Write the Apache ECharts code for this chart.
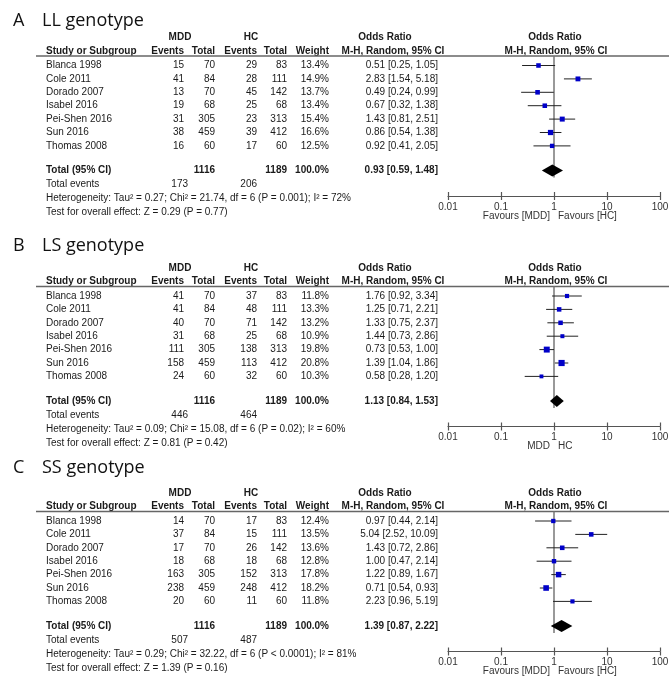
<!DOCTYPE html>
<html>
<head>
<meta charset="utf-8">
<script src="https://cdn.jsdelivr.net/npm/echarts@6/dist/echarts.min.js"></script>
<style>html,body{margin:0;padding:0;background:#fff}#c{width:669px;height:684px}</style>
</head>
<body>
<div id="c"></div>
<script>
// ---------- DATA ----------
const studies = ["Blanca 1998", "Cole 2011", "Dorado 2007", "Isabel 2016", "Pei-Shen 2016", "Sun 2016", "Thomas 2008"];
const mddTotal = [70, 84, 70, 68, 305, 459, 60];
const hcTotal = [83, 111, 142, 68, 313, 412, 60];
const axisTicks = [0.01, 0.1, 1, 10, 100];

// Panel A: LL genotype
const llMddEvents = [15, 41, 13, 19, 31, 38, 16];
const llHcEvents = [29, 28, 45, 25, 23, 39, 17];
const llWeight = [13.4, 14.9, 13.7, 13.4, 15.4, 16.6, 12.5];
const llOR = [0.51, 2.83, 0.49, 0.67, 1.43, 0.86, 0.92];
const llLow = [0.25, 1.54, 0.24, 0.32, 0.81, 0.54, 0.41];
const llHigh = [1.05, 5.18, 0.99, 1.38, 2.51, 1.38, 2.05];
const llTotal = [0.93, 0.59, 1.48];
const llTotalEvents = [173, 206];
const llHet = "Heterogeneity: Tau² = 0.27; Chi² = 21.74, df = 6 (P = 0.001); I² = 72%";
const llTest = "Test for overall effect: Z = 0.29 (P = 0.77)";

// Panel B: LS genotype
const lsMddEvents = [41, 41, 40, 31, 111, 158, 24];
const lsHcEvents = [37, 48, 71, 25, 138, 113, 32];
const lsWeight = [11.8, 13.3, 13.2, 10.9, 19.8, 20.8, 10.3];
const lsOR = [1.76, 1.25, 1.33, 1.44, 0.73, 1.39, 0.58];
const lsLow = [0.92, 0.71, 0.75, 0.73, 0.53, 1.04, 0.28];
const lsHigh = [3.34, 2.21, 2.37, 2.86, 1.00, 1.86, 1.20];
const lsTotal = [1.13, 0.84, 1.53];
const lsTotalEvents = [446, 464];
const lsHet = "Heterogeneity: Tau² = 0.09; Chi² = 15.08, df = 6 (P = 0.02); I² = 60%";
const lsTest = "Test for overall effect: Z = 0.81 (P = 0.42)";

// Panel C: SS genotype
const ssMddEvents = [14, 37, 17, 18, 163, 238, 20];
const ssHcEvents = [17, 15, 26, 18, 152, 248, 11];
const ssWeight = [12.4, 13.5, 13.6, 12.8, 17.8, 18.2, 11.8];
const ssOR = [0.97, 5.04, 1.43, 1.00, 1.22, 0.71, 2.23];
const ssLow = [0.44, 2.52, 0.72, 0.47, 0.89, 0.54, 0.96];
const ssHigh = [2.14, 10.09, 2.86, 2.14, 1.67, 0.93, 5.19];
const ssTotal = [1.39, 0.87, 2.22];
const ssTotalEvents = [507, 487];
const ssHet = "Heterogeneity: Tau² = 0.29; Chi² = 32.22, df = 6 (P < 0.0001); I² = 81%";
const ssTest = "Test for overall effect: Z = 1.39 (P = 0.16)";

const sumMdd = 1116, sumHc = 1189;

// ---------- LAYOUT ----------
const ROW = 13.4;
const TOTAL_ROW = 105 / ROW;   // pooled row position (in row units)
const OFF_TE = 119, OFF_HET = 133, OFF_TEST = 147;
const panels = [
  {letter: "A", title: "LL genotype", titleY: 21, y0: 65.5, ev: llMddEvents, hev: llHcEvents, w: llWeight, or: llOR, lo: llLow, hi: llHigh, tot: llTotal, te: llTotalEvents, het: llHet, test: llTest, fav: ["Favours [MDD]", "Favours [HC]"]},
  {letter: "B", title: "LS genotype", titleY: 246, y0: 296, ev: lsMddEvents, hev: lsHcEvents, w: lsWeight, or: lsOR, lo: lsLow, hi: lsHigh, tot: lsTotal, te: lsTotalEvents, het: lsHet, test: lsTest, fav: ["MDD", "HC"]},
  {letter: "C", title: "SS genotype", titleY: 468, y0: 521, ev: ssMddEvents, hev: ssHcEvents, w: ssWeight, or: ssOR, lo: ssLow, hi: ssHigh, tot: ssTotal, te: ssTotalEvents, het: ssHet, test: ssTest, fav: ["Favours [MDD]", "Favours [HC]"]}
];
const FONT = '"Liberation Sans", Arial, sans-serif';
const TXT = "#1a1a1a";
const f2 = v => v.toFixed(2);
const ciText = (o, l, h) => f2(o) + " [" + f2(l) + ", " + f2(h) + "]";

const graphics = [];
function txt(x, y, text, opt) {
  opt = opt || {};
  graphics.push({
    type: "text", x: x, y: y, silent: true,
    style: {
      text: String(text), fill: opt.fill || TXT,
      font: (opt.bold ? "bold " : "") + (opt.size || 10) + "px " + (opt.family || FONT),
      align: opt.align || "left", verticalAlign: "middle"
    }
  });
}

const grids = [], xAxes = [], yAxes = [], series = [];
const GRID_TOP_OFF = -9.5, GRID_BOT_OFF = 130.5;

panels.forEach((p, i) => {
  const y0 = p.y0;
  const ry = r => y0 + r * ROW;
  // titles
  txt(13, p.titleY, p.letter, {size: 18, family: '"Open Sans", sans-serif', fill: "#111"});
  txt(42, p.titleY, p.title, {size: 18, family: '"Open Sans", sans-serif', fill: "#111"});
  // group headers
  txt(180, y0 - 28, "MDD", {bold: true, align: "center"});
  txt(251, y0 - 28, "HC", {bold: true, align: "center"});
  txt(385, y0 - 28, "Odds Ratio", {bold: true, align: "center"});
  txt(555, y0 - 28, "Odds Ratio", {bold: true, align: "center"});
  txt(46, y0 - 14.5, "Study or Subgroup", {bold: true});
  txt(184, y0 - 14.5, "Events", {bold: true, align: "right"});
  txt(215, y0 - 14.5, "Total", {bold: true, align: "right"});
  txt(257, y0 - 14.5, "Events", {bold: true, align: "right"});
  txt(287, y0 - 14.5, "Total", {bold: true, align: "right"});
  txt(329, y0 - 14.5, "Weight", {bold: true, align: "right"});
  txt(393, y0 - 14.5, "M-H, Random, 95% CI", {bold: true, align: "center"});
  txt(556, y0 - 14.5, "M-H, Random, 95% CI", {bold: true, align: "center"});
  graphics.push({type: "line", silent: true, shape: {x1: 36, y1: y0 - 9.5, x2: 669, y2: y0 - 9.5}, style: {stroke: "#666", lineWidth: 1.5}});
  // study rows
  studies.forEach((s, k) => {
    const y = ry(k);
    txt(46, y, s);
    txt(184, y, p.ev[k], {align: "right"});
    txt(215, y, mddTotal[k], {align: "right"});
    txt(257, y, p.hev[k], {align: "right"});
    txt(287, y, hcTotal[k], {align: "right"});
    txt(329, y, p.w[k].toFixed(1) + "%", {align: "right"});
    txt(438, y, ciText(p.or[k], p.lo[k], p.hi[k]), {align: "right"});
  });
  // totals
  const yT = ry(TOTAL_ROW);
  txt(46, yT, "Total (95% CI)", {bold: true});
  txt(215, yT, sumMdd, {bold: true, align: "right"});
  txt(287, yT, sumHc, {bold: true, align: "right"});
  txt(329, yT, "100.0%", {bold: true, align: "right"});
  txt(438, yT, ciText(p.tot[0], p.tot[1], p.tot[2]), {bold: true, align: "right"});
  txt(46, y0 + OFF_TE, "Total events");
  txt(188, y0 + OFF_TE, p.te[0], {align: "right"});
  txt(257, y0 + OFF_TE, p.te[1], {align: "right"});
  txt(46, y0 + OFF_HET, p.het);
  txt(46, y0 + OFF_TEST, p.test);
  // favours
  txt(550, y0 + 150.5, p.fav[0], {align: "right", fill: "#333"});
  txt(558, y0 + 150.5, p.fav[1], {align: "left", fill: "#333"});

  // forest grid
  grids.push({left: 448, width: 212, top: y0 + GRID_TOP_OFF, height: GRID_BOT_OFF - GRID_TOP_OFF, containLabel: false, outerBoundsMode: "none"});
  const yMin = GRID_TOP_OFF / ROW, yMax = GRID_BOT_OFF / ROW;
  yAxes.push({gridIndex: i, type: "value", inverse: true, min: yMin, max: yMax, show: false});
  const xBase = {gridIndex: i, type: "log", logBase: 10, min: axisTicks[0], max: axisTicks[axisTicks.length - 1], position: "bottom", splitLine: {show: false}, minorTick: {show: false}};
  xAxes.push(Object.assign({}, xBase, {
    axisLine: {show: true, onZero: false, lineStyle: {color: "#555", width: 1.2}},
    axisTick: {show: true, length: 4, lineStyle: {color: "#555", width: 1.2}},
    axisLabel: {show: true, margin: 6, fontSize: 10, fontFamily: FONT, color: "#333",
      formatter: v => String(+(+v).toPrecision(2))}
  }));
  xAxes.push(Object.assign({}, xBase, {
    axisLine: {show: false, onZero: false},
    axisTick: {show: true, inside: true, length: 4, lineStyle: {color: "#555", width: 1.2}},
    axisLabel: {show: false}
  }));
  const xi = i * 2;
  // vertical line at OR = 1
  series.push({type: "line", xAxisIndex: xi, yAxisIndex: i, symbol: "none", silent: true, z: 1,
    lineStyle: {color: "#777", width: 1.5},
    data: [[1, yMin], [1, TOTAL_ROW + 7 / ROW]]});
  // studies
  series.push({type: "custom", xAxisIndex: xi, yAxisIndex: i, z: 3, clip: false,
    data: studies.map((s, k) => [p.or[k], p.lo[k], p.hi[k], p.w[k], k]),
    encode: {x: [0, 1, 2], y: 4},
    renderItem: (params, api) => {
      const r = api.value(4);
      const c = api.coord([api.value(0), r]);
      const a = api.coord([api.value(1), r]);
      const b = api.coord([api.value(2), r]);
      const s = 1.6 + api.value(3) * 0.22;
      return {type: "group", children: [
        {type: "line", shape: {x1: a[0], y1: c[1], x2: b[0], y2: c[1]}, style: {stroke: "#222", lineWidth: 1}},
        {type: "rect", shape: {x: c[0] - s / 2, y: c[1] - s / 2, width: s, height: s}, style: {fill: "#0000c8"}}
      ]};
    }});
  // pooled diamond
  series.push({type: "custom", xAxisIndex: xi, yAxisIndex: i, z: 3, clip: false,
    data: [[p.tot[0], p.tot[1], p.tot[2], TOTAL_ROW]],
    encode: {x: [0, 1, 2], y: 3},
    renderItem: (params, api) => {
      const r = api.value(3);
      const c = api.coord([api.value(0), r]);
      const a = api.coord([api.value(1), r]);
      const b = api.coord([api.value(2), r]);
      const h = 6;
      return {type: "polygon", shape: {points: [[a[0], c[1]], [c[0], c[1] - h], [b[0], c[1]], [c[0], c[1] + h]]}, style: {fill: "#000"}};
    }});
});

const chart = echarts.init(document.getElementById("c"), null, {renderer: "canvas"});
chart.setOption({
  animation: false,
  backgroundColor: "#fff",
  grid: grids,
  xAxis: xAxes,
  yAxis: yAxes,
  series: series,
  graphic: {elements: graphics}
});
</script>
</body>
</html>
